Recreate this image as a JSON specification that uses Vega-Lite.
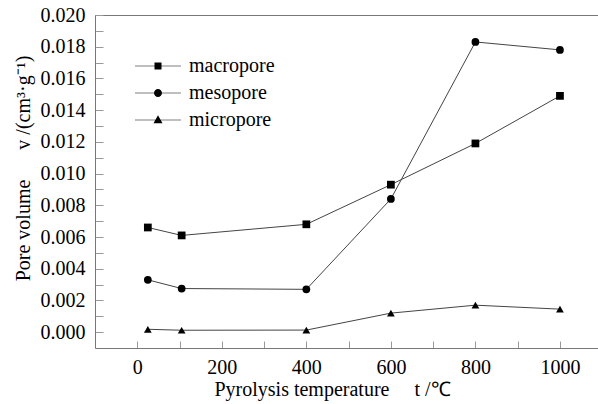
{
  "$schema": "https://vega.github.io/schema/vega-lite/v6.json",
  "width": 503,
  "height": 333,
  "autosize": {"type": "none"},
  "padding": {"left": 95, "top": 15, "right": 0, "bottom": 56},
  "background": "white",
  "config": {
    "view": {"stroke": null},
    "font": "Liberation Serif",
    "axis": {"labelFont": "Liberation Serif", "titleFont": "Liberation Serif", "labelOverlap": false, "labelFontSize": 20, "titleFontSize": 20, "titleFontWeight": "normal", "labelColor": "black", "titleColor": "black"},
    "legend": {"labelFont": "Liberation Serif", "labelFontSize": 20, "labelColor": "black"}
  },
  "data": {
    "values": [
      {"t": 25, "type": "macropore", "v": 0.0066},
      {"t": 105, "type": "macropore", "v": 0.0061},
      {"t": 400, "type": "macropore", "v": 0.0068},
      {"t": 600, "type": "macropore", "v": 0.0093},
      {"t": 800, "type": "macropore", "v": 0.0119},
      {"t": 1000, "type": "macropore", "v": 0.0149},
      {"t": 25, "type": "mesopore", "v": 0.0033},
      {"t": 105, "type": "mesopore", "v": 0.00275},
      {"t": 400, "type": "mesopore", "v": 0.0027},
      {"t": 600, "type": "mesopore", "v": 0.0084},
      {"t": 800, "type": "mesopore", "v": 0.0183},
      {"t": 1000, "type": "mesopore", "v": 0.0178},
      {"t": 25, "type": "micropore", "v": 0.00018},
      {"t": 105, "type": "micropore", "v": 0.00012},
      {"t": 400, "type": "micropore", "v": 0.00013},
      {"t": 600, "type": "micropore", "v": 0.0012},
      {"t": 800, "type": "micropore", "v": 0.0017},
      {"t": 1000, "type": "micropore", "v": 0.00145}
    ]
  },
  "encoding": {
    "x": {
      "field": "t", "type": "quantitative",
      "scale": {"domain": [-100, 1090], "nice": false, "zero": false},
      "axis": {
        "values": [0, 100, 200, 300, 400, 500, 600, 700, 800, 900, 1000],
        "format": "d",
        "labelExpr": "datum.value % 200 === 0 ? datum.label : ''",
        "tickSize": -7,
        "tickColor": "#999",
        "domainColor": "#777",
        "labelPadding": 16,
        "labelOverlap": false,
        "grid": false,
        "title": "Pyrolysis temperature\u00a0\u00a0\u00a0\u00a0 t /\u2103",
        "titlePadding": 2,
        "titleX": 237,
        "encode": {"ticks": {"update": {"y2": {"signal": "round(datum.value/100)%2===0 ? -7 : -4"}}}}
      }
    },
    "y": {
      "field": "v", "type": "quantitative",
      "scale": {"domain": [-0.001, 0.02], "nice": false, "zero": false},
      "axis": {
        "values": [0, 0.001, 0.002, 0.003, 0.004, 0.005, 0.006, 0.007, 0.008, 0.009, 0.01, 0.011, 0.012, 0.013, 0.014, 0.015, 0.016, 0.017, 0.018, 0.019, 0.02],
        "labelExpr": "round(datum.value*1000)%2===0 ? format(datum.value, '.3f') : ''",
        "tickSize": -8,
        "tickColor": "#999",
        "domainColor": "#777",
        "labelPadding": 18,
        "labelOverlap": false,
        "grid": true,
        "gridColor": "#777",
        "gridWidth": 1,
        "gridOpacity": {"condition": {"test": "datum.value > 0.0195", "value": 1}, "value": 0},
        "title": "Pore volume\u00a0\u00a0\u00a0\u00a0\u00a0 v /(cm\u00b3\u00b7g\u207b\u00b9)",
        "titlePadding": 7,
        "titleY": 153,
        "encode": {
          "ticks": {"update": {"x2": {"signal": "round(datum.value*1000)%2===0 ? 8 : 5"}}}
        }
      }
    }
  },
  "layer": [
    {
      "mark": {"type": "line", "color": "#444", "strokeWidth": 1},
      "encoding": {"detail": {"field": "type"}}
    },
    {
      "mark": {"type": "point", "filled": true, "color": "black", "size": 60, "opacity": 1},
      "encoding": {
        "shape": {
          "field": "type", "type": "nominal",
          "scale": {"domain": ["macropore", "mesopore", "micropore"], "range": ["square", "circle", "triangle-up"]},
          "legend": null
        }
      }
    },
    {
      "mark": {"type": "point", "filled": true, "color": "black", "size": 100, "opacity": 0},
      "encoding": {
        "shape": {
          "field": "type", "type": "nominal",
          "scale": {"domain": ["macropore", "mesopore", "micropore"], "range": [
            "M-4.6,-0.06H4.6V0.06H-4.6ZM-0.7,-0.7H0.7V0.7H-0.7Z",
            "M-4.6,-0.06H4.6V0.06H-4.6ZM0.8,0A0.8,0.8,0,1,1,-0.8,0A0.8,0.8,0,1,1,0.8,0Z",
            "M-4.6,-0.06H4.6V0.06H-4.6ZM0,-0.95L0.9,0.65L-0.9,0.65Z"
          ]},
          "legend": {
            "orient": "none",
            "legendX": 53,
            "legendY": 41,
            "title": null,
            "symbolSize": 100,
            "symbolOpacity": 1,
            "symbolFillColor": "black",
            "symbolStrokeWidth": 0,
            "labelOffset": 21,
            "rowPadding": 7,
            "padding": 0
          }
        }
      }
    }
  ],
  "resolve": {"scale": {"shape": "independent"}}
}
